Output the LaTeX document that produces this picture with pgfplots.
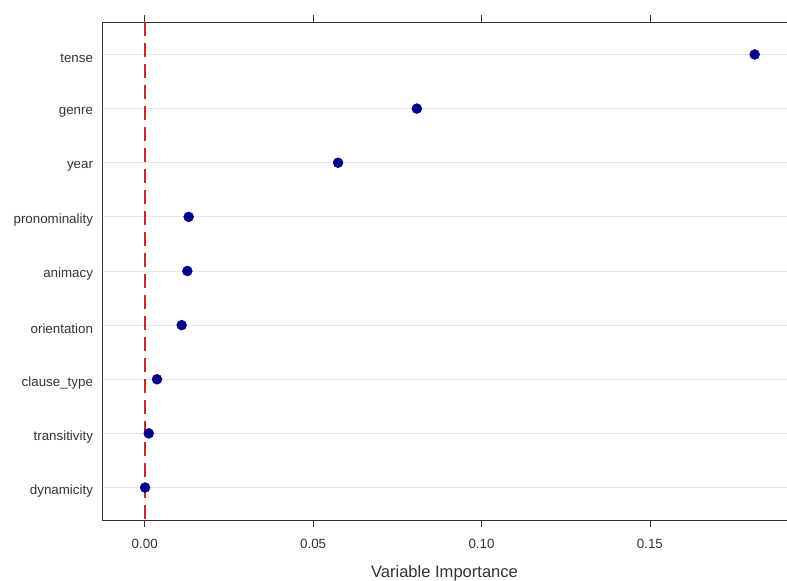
\documentclass[border=0pt]{standalone}
\usepackage{fontspec}
\setmainfont{Liberation Sans}
\usepackage{pgfplots}
\pgfplotsset{compat=1.18}
\definecolor{navyc}{HTML}{00008B}
\definecolor{dashred}{HTML}{C8282D}
\definecolor{gridgray}{HTML}{E6E6E6}
\definecolor{ticktext}{HTML}{333333}
\definecolor{axisc}{HTML}{333333}
\begin{document}
\begin{tikzpicture}
\begin{axis}[name=ax, scale only axis, width=685bp, height=498bp,
 xmin=-0.01268, xmax=0.1907, ymin=0.4, ymax=9.6,
 /pgf/number format/assume math mode=true,
 xtick={0,0.05,0.1,0.15}, xticklabels={0.00,0.05,0.10,0.15},
 xtick pos=both, xticklabel pos=lower, tick align=outside,
 major tick length=7bp,
 x tick style={axisc, line width=0.8bp},
 ytick={1,2,3,4,5,6,7,8,9},
 yticklabels={dynamicity,transitivity,clause\_type,orientation,animacy,pronominality,year,genre,tense},
 y tick style={draw=none},
 ymajorgrids, y grid style={gridgray, line width=0.9bp},
 axis line style={axisc, line width=0.8bp},
 ticklabel style={font=\fontsize{13.4}{16}\selectfont, text=ticktext},
 xticklabel style={yshift=-9bp},
 yticklabel style={yshift=-3.5bp, xshift=1.5bp},
 xlabel={Variable Importance},
 xlabel style={font=\fontsize{16.6}{20}\selectfont, text=ticktext, yshift=-10bp},
 clip=false,
]
\addplot[dashred, line width=2bp, dash pattern=on 14bp off 7bp] coordinates {(0,9.6) (0,0.4)};
\addplot[only marks, mark=*, mark size=5bp, color=navyc] coordinates {
(0.1811,9) (0.0808,8) (0.0574,7) (0.01306,6) (0.01265,5) (0.01098,4) (0.00365,3) (0.0012,2) (0.0001,1)};
\end{axis}
\pgfresetboundingbox
\path (ax.south west) ++(-102bp,-61bp) coordinate (bl);
\path (ax.north east) ++(0bp,22bp) coordinate (tr);
\useasboundingbox (bl) rectangle (tr);
\end{tikzpicture}
\end{document}
